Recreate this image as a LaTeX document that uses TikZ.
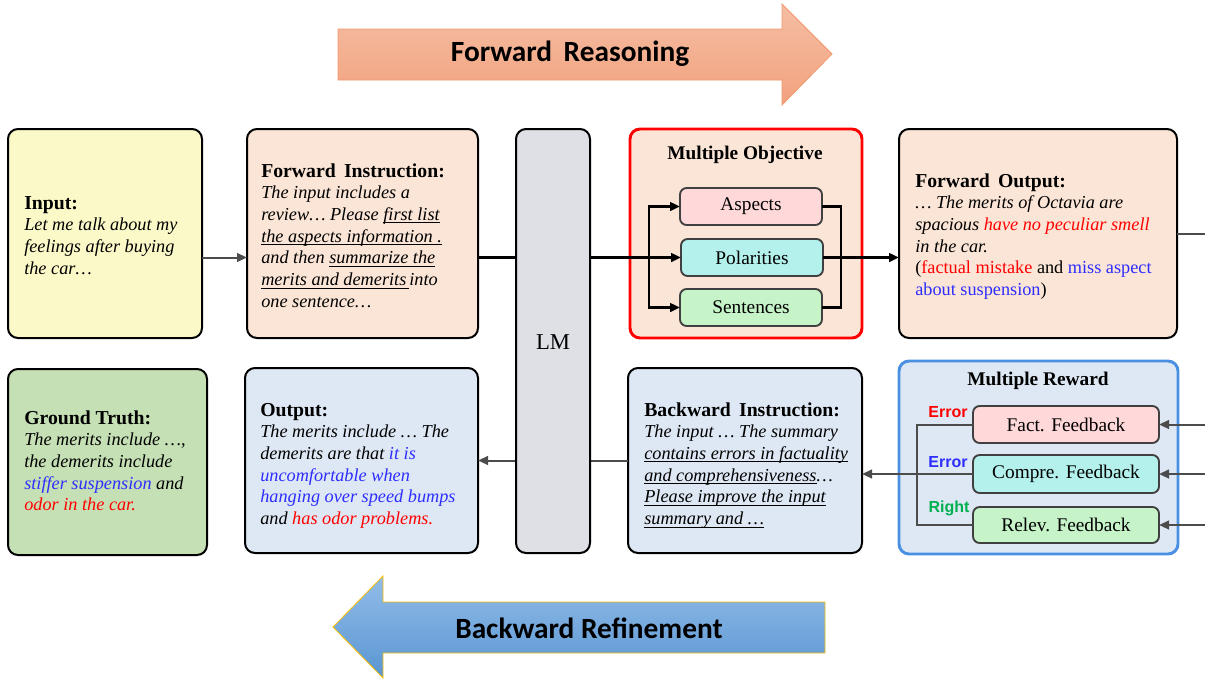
\documentclass[tikz,border=0pt]{standalone}
\usepackage{fontspec}
\setmainfont{Liberation Serif}
\newfontfamily\arialf{Liberation Sans}
\newfontfamily\calibrif{Carlito}
\usetikzlibrary{arrows.meta}

\definecolor{peach}{HTML}{FBE5D6}
\definecolor{inyellow}{HTML}{FCF9C8}
\definecolor{gtgreen}{HTML}{C5E0B4}
\definecolor{paleblue}{HTML}{DEE8F4}
\definecolor{lmgray}{HTML}{DEE0E6}
\definecolor{aspink}{HTML}{FFD9D9}
\definecolor{polcyan}{HTML}{B4F1EC}
\definecolor{sengreen}{HTML}{C6F3C8}
\definecolor{tblue}{RGB}{45,45,255}
\definecolor{okgreen}{HTML}{00B050}
\definecolor{rewardblue}{HTML}{4A90E2}
\definecolor{fwtop}{HTML}{F5BDA3}
\definecolor{fwbot}{HTML}{F2A27E}
\definecolor{fwedge}{HTML}{F09A6C}
\definecolor{bwtop}{HTML}{92BCE8}
\definecolor{bwbot}{HTML}{5996D2}
\definecolor{bwedge}{HTML}{FFC000}

% box from corner (x1,y1) to (x2,y2), in pixel-like units
\newcommand\mkbox[7]{\node[#1, minimum width={(#4-#2)*0.75pt}, minimum height={(#5-#3)*0.75pt}] (#6) at ({(#2+#4)/2},{(#3+#5)/2}) {#7};}
\newcommand\hd[1]{{\fontsize{14.8}{16.3}\selectfont\bfseries\upshape #1}}
% underline drawn just below the baseline
\newcommand\ul[1]{\setbox0\hbox{#1}\rlap{\rule[-2.2pt]{\wd0}{0.75pt}}\box0}
\newenvironment{lines}{\begin{tabular}[t]{@{}l@{}}}{\end{tabular}}

\begin{document}
\begin{tikzpicture}[x=0.75pt,y=-0.75pt,
  mainbox/.style={draw=black, line width=1.5pt, rounded corners=7.5pt, inner sep=0pt, outer sep=0pt},
  subbox/.style={draw=black!75, line width=1.4pt, rounded corners=5pt, inner sep=0pt, outer sep=0pt,
    font=\fontsize{14.5}{17}\selectfont},
  blk/.style={draw=black, line width=1.8pt},
  gry/.style={draw=black!70, line width=1.5pt},
  tipk/.tip={Triangle[length=7.5pt,width=6.5pt]},
  para/.style={inner sep=0pt, anchor=base west, font=\fontsize{13.7}{16.3}\selectfont\itshape},
  boxtitle/.style={inner sep=0pt, font=\fontsize{14.5}{17}\selectfont\bfseries},
  flag/.style={inner sep=0pt, font=\arialf\fontsize{12}{14}\selectfont\bfseries},
  big/.style={inner sep=0pt, font=\calibrif\fontsize{22}{26}\selectfont\bfseries},
]
\useasboundingbox (0,0) rectangle (1205,679);

% direction arrows
\path[draw=fwedge, line width=0.6pt, top color=fwtop, bottom color=fwbot]
  (338,29) -- (782,29) -- (782,4) -- (832,54) -- (782,105) -- (782,80) -- (338,80) -- cycle;
\node[big] (fwd) at (570,54) {Forward\, Reasoning};
\path[draw=bwedge, line width=0.6pt, top color=bwtop, bottom color=bwbot]
  (825,602) -- (383,602) -- (383,576) -- (333,627) -- (383,678) -- (383,653) -- (825,653) -- cycle;
\node[big] (bwd) at (589,628) {Backward Refinement};

% main boxes
\mkbox{mainbox, fill=inyellow}{8}{129}{202}{338}{IN}{}
\mkbox{mainbox, fill=peach}{247}{129}{478}{338}{FI}{}
\mkbox{mainbox, draw=red, line width=2.2pt, fill=peach}{630}{129}{862}{338}{MO}{}
\mkbox{mainbox, fill=peach}{899}{129}{1177}{338}{FO}{}
\mkbox{mainbox, fill=gtgreen}{8}{369}{207}{555}{GT}{}
\mkbox{mainbox, fill=paleblue}{245}{368}{478}{553}{OUT}{}
\mkbox{mainbox, fill=paleblue}{628}{368}{862}{553}{BI}{}
\mkbox{mainbox, draw=rewardblue, line width=2.2pt, fill=paleblue}{899}{361}{1178}{554}{MR}{}

% objective and reward items
\node[boxtitle] (MOt) at (745,155) {Multiple Objective};
\mkbox{subbox, fill=aspink}{680}{188}{822}{225}{asp}{Aspects}
\mkbox{subbox, fill=polcyan}{681}{239}{823}{276}{pol}{Polarities}
\mkbox{subbox, fill=sengreen}{680}{289}{822}{326}{sen}{Sentences}
\node[boxtitle] (MRt) at (1038,381) {Multiple Reward};
\mkbox{subbox, fill=aspink}{973}{406}{1159}{443}{fact}{Fact. Feedback}
\mkbox{subbox, fill=polcyan}{973}{455}{1159}{493}{comp}{Compre. Feedback}
\mkbox{subbox, fill=sengreen}{973}{507}{1159}{543}{rel}{Relev. Feedback}
\node[flag, text=red] (e1) at (948,412) {Error};
\node[flag, text=tblue] (e2) at (948,462) {Error};
\node[flag, text=okgreen] (ok) at (949,508) {Right};

% box texts
\node[para] (INt) at (24,209) {\begin{lines}
\hd{Input:}\\
Let me talk about my\\
feelings after buying\\
the car…
\end{lines}};
\node[para] (FIt) at (261,177) {\begin{lines}
\hd{Forward\, Instruction:}\\
The input includes a\\
review… Please \ul{first list}\\
\ul{the aspects information .}\\
and then \ul{summarize the}\\
\ul{merits and demerits\,}into\\
one sentence…
\end{lines}};
\node[para] (FOt) at (915,187) {\begin{lines}
\hd{Forward\, Output:}\\
…\ The merits of Octavia are\\
spacious \textcolor{red}{have no peculiar smell}\\
in the car.\\
\upshape(\textcolor{red}{factual mistake} and \textcolor{tblue}{miss aspect}\\
\upshape\textcolor{tblue}{about suspension})
\end{lines}};
\node[para] (GTt) at (24,424) {\begin{lines}
\hd{Ground Truth:}\\
The merits include …,\\
the demerits include\\
\textcolor{tblue}{stiffer suspension} and\\
\textcolor{red}{odor in the car.}
\end{lines}};
\node[para] (OUTt) at (260,416) {\begin{lines}
\hd{Output:}\\
The merits include … The\\
demerits are that \textcolor{tblue}{it is}\\
\textcolor{tblue}{uncomfortable when}\\
\textcolor{tblue}{hanging over speed bumps}\\
and \textcolor{red}{has odor problems.}
\end{lines}};
\node[para] (BIt) at (644,416) {\begin{lines}
\hd{Backward\, Instruction:}\\
The input … The summary\\
\ul{contains errors in factuality}\\
\ul{and comprehensiveness}…\\
\ul{Please improve the input}\\
\ul{summary and …}
\end{lines}};

% connectors
\coordinate (edge) at (1205,0);
\coordinate (br) at (649,258);
\coordinate (mg) at (841,258);
\coordinate (fb) at (917,474);
\draw[gry, -tipk] (IN.east |- pol.west) -- (FI.west |- pol.west);
\draw[blk, -tipk] (FI.east |- pol.west) -- (pol.west);
\draw[blk, -tipk] (br) |- (asp.west);
\draw[blk, -tipk] (br) |- (sen.west);
\draw[blk] (asp.east) -| (mg) |- (sen.east);
\draw[blk, -tipk] (pol.east) -- (pol.east -| FO.west);
\draw[gry] (FO.east) -- (FO.east -| edge);
\draw[gry, -tipk] (fact.east -| edge) -- (fact.east);
\draw[gry, -tipk] (comp.east -| edge) -- (comp.east);
\draw[gry, -tipk] (rel.east -| edge) -- (rel.east);
\draw[gry] (fact.west) -| (fb) |- (rel.west);
\draw[gry, -tipk] (comp.west) -- (comp.west -| BI.east);
\draw[gry, -tipk] (BI.west) -- (BI.west -| OUT.east);

% language model column, over the connectors
\mkbox{mainbox, fill=lmgray}{516}{129}{590}{553}{LM}{}
\node[font=\fontsize{17}{20}\selectfont, inner sep=0pt] (LMt) at (553,342) {LM};
\end{tikzpicture}
\end{document}
